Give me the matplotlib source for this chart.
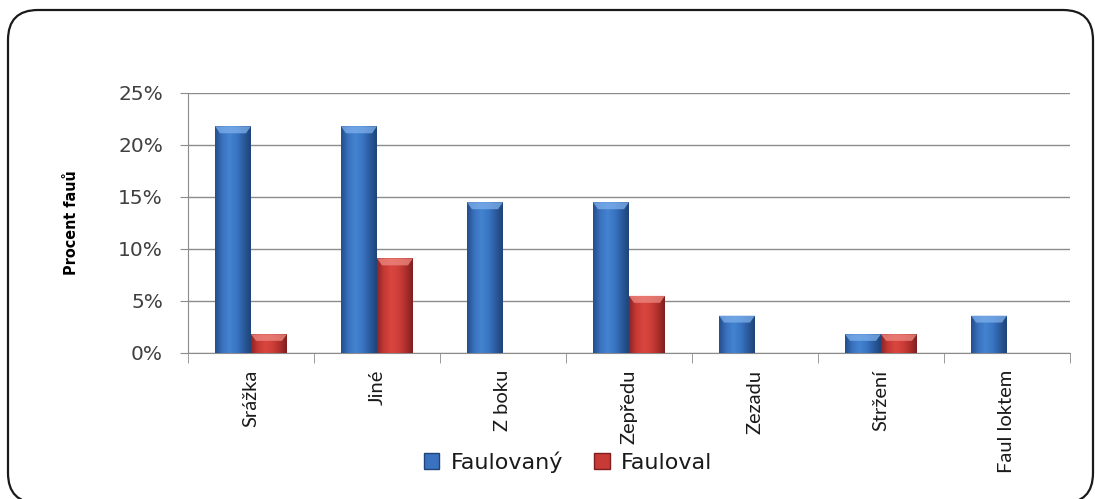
import numpy as np
import matplotlib
matplotlib.use("Agg")
import matplotlib.pyplot as plt
from matplotlib.patches import FancyBboxPatch, Polygon, Patch
from matplotlib.colors import LinearSegmentedColormap

# ---- data -------------------------------------------------------------
categories = ["Srážka", "Jiné", "Z boku", "Zepředu", "Zezadu", "Stržení", "Faul loktem"]
faulovany = [21.8, 21.8, 14.5, 14.5, 3.6, 1.8, 3.6]   # % of fouls
fauloval = [1.8, 9.1, 0.0, 5.5, 0.0, 1.8, 0.0]        # % of fouls
series_names = ["Faulovaný", "Fauloval"]
yticks = [0, 5, 10, 15, 20, 25]
ytick_labels = ["0%", "5%", "10%", "15%", "20%", "25%"]
ylabel = "Procent fauů"

# ---- figure -----------------------------------------------------------
W, H = 1095, 499
fig = plt.figure(figsize=(W / 100, H / 100), dpi=100)
fig.patch.set_facecolor("white")

# rounded frame around the whole chart (display pixel coordinates)
frame = FancyBboxPatch((8, -4), 1085, 499 - 10 + 4,
                       boxstyle="round,pad=0,rounding_size=30",
                       transform=None, facecolor="none",
                       edgecolor="#1a1a1a", linewidth=1.6)
fig.patches.append(frame)

ax = fig.add_axes([188 / W, 1 - 353 / H, (1070 - 188) / W, (353 - 93) / H])
ax.set_xlim(0, len(categories))
ax.set_ylim(0, 25)

grid_col = "#8c8c8c"
ax.set_yticks(yticks)
ax.set_yticklabels(ytick_labels, fontsize=14.5, color="#404040", family="DejaVu Sans")
ax.yaxis.grid(True, color=grid_col, linewidth=1.0)
ax.set_axisbelow(True)
for s in ["top", "right"]:
    ax.spines[s].set_visible(False)
ax.spines["left"].set_color(grid_col)
ax.spines["bottom"].set_color(grid_col)
ax.tick_params(axis="y", length=6, color=grid_col, pad=12)

x = np.arange(len(categories)) + 0.5
ax.set_xticks(x)
ax.set_xticklabels(categories, rotation=90, va="top", ha="center",
                   fontsize=14.5, color="#1a1a1a", family="Lato")
ax.set_xticks(np.arange(len(categories) + 1), minor=True)
ax.tick_params(axis="x", which="major", length=0, pad=12)
ax.tick_params(axis="x", which="minor", length=7, color=grid_col)

ax.set_ylabel(ylabel, fontsize=11.5, fontweight="bold", family="DejaVu Sans",
              fontstretch="condensed", labelpad=28)

# ---- bars with bevelled shading -----------------------------------------
bw = 36 / 126
px = 25 / 260          # data units per pixel vertically
pxx = 1 / 126          # data units per pixel horizontally

blue_cmap = LinearSegmentedColormap.from_list(
    "b", ["#234f8c", "#3a72bf", "#4383d0", "#3a76c4", "#2a5c9f", "#1f4479"])
red_cmap = LinearSegmentedColormap.from_list(
    "r", ["#8f2424", "#c83a36", "#d9463f", "#cf3f3a", "#b0302d", "#7f1f1f"])
grad = np.linspace(0, 1, 64).reshape(1, -1)


def shaded_bars(xs, vals, cmap, top_col, label):
    bars = ax.bar(xs, vals, width=bw, color=cmap(0.4), edgecolor="none",
                  label=label, zorder=3)
    for b, v in zip(bars, vals):
        if v <= 0:
            continue
        x0, w = b.get_x(), b.get_width()
        im = ax.imshow(grad, cmap=cmap, aspect="auto",
                       extent=(x0, x0 + w, 0, v), zorder=3.5,
                       interpolation="bicubic")
        im.set_clip_path(b)
        bev = min(7 * px, v * 0.35)
        ins = 5 * pxx
        ax.add_patch(Polygon([(x0, v), (x0 + w, v), (x0 + w - ins, v - bev),
                              (x0 + ins, v - bev)], closed=True,
                             facecolor=top_col, edgecolor="none", zorder=4,
                             alpha=0.75))
    return bars


shaded_bars(x - bw / 2, faulovany, blue_cmap, "#7fb0ec", series_names[0])
shaded_bars(x + bw / 2, fauloval, red_cmap, "#ee8a82", series_names[1])

# ---- legend -------------------------------------------------------------
handles = [Patch(facecolor="#3a72bf", edgecolor="#1f4479"),
           Patch(facecolor="#c83a36", edgecolor="#7f1f1f")]
fig.legend(handles, series_names, loc="center", ncol=2,
           bbox_to_anchor=(568 / W, 1 - 462 / H), frameon=False,
           prop={"family": "DejaVu Sans", "size": 16},
           handlelength=0.7, handleheight=0.7, handletextpad=0.5,
           columnspacing=1.4, labelcolor="#1a1a1a")

fig.savefig("out.png", dpi=100)
